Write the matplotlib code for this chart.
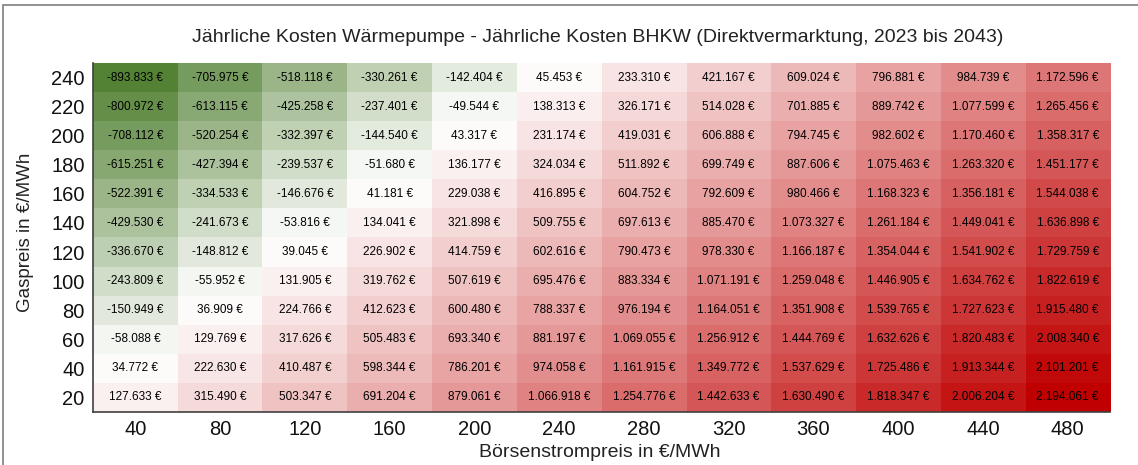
import matplotlib
matplotlib.use("Agg")
import matplotlib.pyplot as plt
import numpy as np
from matplotlib.colors import LinearSegmentedColormap, TwoSlopeNorm
from matplotlib.patches import Rectangle

# Börsenstrompreis (x) and Gaspreis (y), in €/MWh
strompreis = [40, 80, 120, 160, 200, 240, 280, 320, 360, 400, 440, 480]
gaspreis = [240, 220, 200, 180, 160, 140, 120, 100, 80, 60, 40, 20]

# Kosten Wärmepumpe - Kosten BHKW in €, rows = gaspreis, cols = strompreis
row_240 = [-893833, -705975, -518118, -330261, -142404, 45453, 233310, 421167, 609024, 796881, 984739, 1172596]
row_220 = [-800972, -613115, -425258, -237401, -49544, 138313, 326171, 514028, 701885, 889742, 1077599, 1265456]
row_200 = [-708112, -520254, -332397, -144540, 43317, 231174, 419031, 606888, 794745, 982602, 1170460, 1358317]
row_180 = [-615251, -427394, -239537, -51680, 136177, 324034, 511892, 699749, 887606, 1075463, 1263320, 1451177]
row_160 = [-522391, -334533, -146676, 41181, 229038, 416895, 604752, 792609, 980466, 1168323, 1356181, 1544038]
row_140 = [-429530, -241673, -53816, 134041, 321898, 509755, 697613, 885470, 1073327, 1261184, 1449041, 1636898]
row_120 = [-336670, -148812, 39045, 226902, 414759, 602616, 790473, 978330, 1166187, 1354044, 1541902, 1729759]
row_100 = [-243809, -55952, 131905, 319762, 507619, 695476, 883334, 1071191, 1259048, 1446905, 1634762, 1822619]
row_80 = [-150949, 36909, 224766, 412623, 600480, 788337, 976194, 1164051, 1351908, 1539765, 1727623, 1915480]
row_60 = [-58088, 129769, 317626, 505483, 693340, 881197, 1069055, 1256912, 1444769, 1632626, 1820483, 2008340]
row_40 = [34772, 222630, 410487, 598344, 786201, 974058, 1161915, 1349772, 1537629, 1725486, 1913344, 2101201]
row_20 = [127633, 315490, 503347, 691204, 879061, 1066918, 1254776, 1442633, 1630490, 1818347, 2006204, 2194061]

werte = np.array([row_240, row_220, row_200, row_180, row_160, row_140,
                  row_120, row_100, row_80, row_60, row_40, row_20])

def euro(v):
    s = f"{v:,.0f}".replace(",", ".")
    return s + " €"

cmap = LinearSegmentedColormap.from_list("gwr", ["#548235", "#FFFFFF", "#C00000"])
norm = TwoSlopeNorm(vmin=werte.min(), vcenter=0, vmax=werte.max())

fig = plt.figure(figsize=(11.38, 4.65), dpi=100)
ax = fig.add_axes([0.0817, 0.114, 0.8937, 0.7505])

ax.imshow(werte, cmap=cmap, norm=norm, aspect="auto", interpolation="nearest")

cell_font = ["Liberation Sans Narrow", "Liberation Sans", "DejaVu Sans"]
for i in range(len(gaspreis)):
    for j in range(len(strompreis)):
        ax.text(j, i, euro(werte[i, j]), ha="center", va="center",
                fontsize=8.5, family=cell_font, color="#000000")

ax.set_xticks(range(len(strompreis)))
ax.set_xticklabels([str(s) for s in strompreis])
ax.set_yticks(range(len(gaspreis)))
ax.set_yticklabels([str(g) for g in gaspreis])
ax.tick_params(length=0, labelsize=14.5, pad=6, labelcolor="#111111")
for lab in ax.get_xticklabels() + ax.get_yticklabels():
    lab.set_family(["Liberation Sans", "DejaVu Sans"])

for side in ["top", "right"]:
    ax.spines[side].set_visible(False)
for side in ["left", "bottom"]:
    ax.spines[side].set_color("#404040")
    ax.spines[side].set_linewidth(1.2)

fig.text(0.525, 0.920, "Jährliche Kosten Wärmepumpe - Jährliche Kosten BHKW (Direktvermarktung, 2023 bis 2043)",
         ha="center", va="center", fontsize=14, family=["Liberation Sans", "DejaVu Sans"], color="#222222")
fig.text(0.527, 0.027, "Börsenstrompreis in €/MWh", ha="center", va="center",
         fontsize=14, family=["Liberation Sans", "DejaVu Sans"], color="#222222")
fig.text(0.022, 0.50, "Gaspreis in €/MWh", ha="center", va="center", rotation=90,
         fontsize=13.5, family=["Liberation Sans", "DejaVu Sans"], color="#222222")

# chart area frame
fig.patches.append(Rectangle((0.003, -0.1), 1.1, 1.089, transform=fig.transFigure,
                             fill=False, edgecolor="#7f7f7f", linewidth=1.2))

fig.savefig("out.png", dpi=100)
